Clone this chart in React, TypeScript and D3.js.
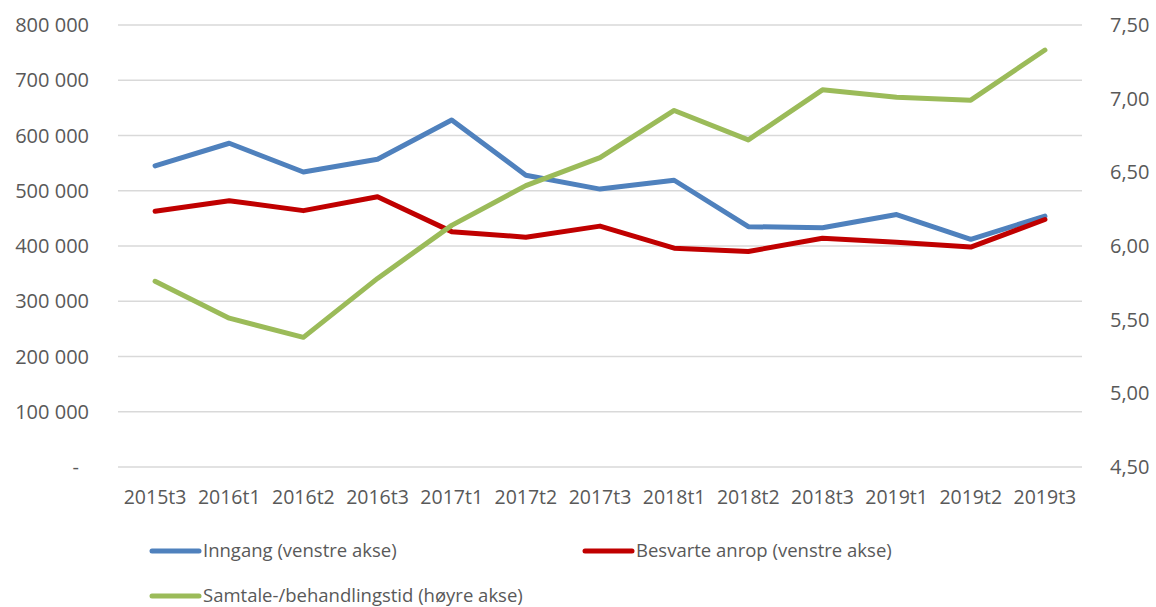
import React, { useEffect, useRef } from "react";
import * as d3 from "d3";

const categories = [
  "2015t3", "2016t1", "2016t2", "2016t3", "2017t1", "2017t2", "2017t3",
  "2018t1", "2018t2", "2018t3", "2019t1", "2019t2", "2019t3",
];
// venstre akse
const inngang = [545000, 586000, 534000, 557000, 628000, 528000, 503000, 519000, 435000, 433000, 457000, 412000, 454000];
const besvarte = [463000, 482000, 464000, 489000, 426000, 416000, 436000, 396000, 390000, 414000, 407000, 398000, 448000];
// høyre akse
const samtaletid = [5.76, 5.51, 5.38, 5.78, 6.14, 6.41, 6.6, 6.92, 6.72, 7.06, 7.01, 6.99, 7.33];

const leftTicks = [0, 100000, 200000, 300000, 400000, 500000, 600000, 700000, 800000];
const rightTicks = [4.5, 5, 5.5, 6, 6.5, 7, 7.5];

const W = 1156;
const H = 607;
const FONT = "'Open Sans', sans-serif";
const TXT = "#595959";

const series = [
  { name: "Inngang (venstre akse)", values: inngang, color: "#4F81BD", axis: "left" },
  { name: "Besvarte anrop (venstre akse)", values: besvarte, color: "#C00000", axis: "left" },
  { name: "Samtale-/behandlingstid (høyre akse)", values: samtaletid, color: "#9BBB59", axis: "right" },
];

export default function App() {
  const svgRef = useRef<SVGSVGElement | null>(null);

  useEffect(() => {
    const svg = d3.select(svgRef.current);
    svg.selectAll("*").remove();

    const m = { left: 118, right: 1082, top: 25, bottom: 467 };

    const x = d3.scaleBand<string>().domain(categories).range([m.left, m.right]);
    const cx = (c: string) => (x(c) || 0) + x.bandwidth() / 2;
    const yL = d3.scaleLinear().domain([0, 800000]).range([m.bottom, m.top]);
    const yR = d3.scaleLinear().domain([4.5, 7.5]).range([m.bottom, m.top]);

    // rutenett
    svg
      .append("g")
      .selectAll("line")
      .data(leftTicks)
      .join("line")
      .attr("x1", m.left)
      .attr("x2", m.right)
      .attr("y1", (d) => yL(d))
      .attr("y2", (d) => yL(d))
      .attr("stroke", "#d9d9d9")
      .attr("stroke-width", 1.5);

    // venstre akse
    const fmtL = (d: number) =>
      d === 0 ? "-" : d3.format(",")(d).replace(/,/g, " ");
    svg
      .append("g")
      .selectAll("text")
      .data(leftTicks)
      .join("text")
      .attr("x", (d) => (d === 0 ? 79 : 89))
      .attr("y", (d) => yL(d))
      .attr("dy", "0.35em")
      .attr("text-anchor", "end")
      .attr("font-family", FONT)
      .attr("font-size", 20)
      .attr("fill", TXT)
      .text(fmtL);

    // høyre akse
    svg
      .append("g")
      .selectAll("text")
      .data(rightTicks)
      .join("text")
      .attr("x", 1110)
      .attr("y", (d) => yR(d))
      .attr("dy", "0.35em")
      .attr("text-anchor", "start")
      .attr("font-family", FONT)
      .attr("font-size", 20)
      .attr("fill", TXT)
      .text((d) => d.toFixed(2).replace(".", ","));

    // kategorier
    svg
      .append("g")
      .selectAll("text")
      .data(categories)
      .join("text")
      .attr("x", (d) => cx(d))
      .attr("y", 497)
      .attr("dy", "0.35em")
      .attr("text-anchor", "middle")
      .attr("font-family", FONT)
      .attr("font-size", 19.5)
      .attr("fill", TXT)
      .text((d) => d);

    // linjer
    series.forEach((s) => {
      const y = s.axis === "left" ? yL : yR;
      const line = d3
        .line<number>()
        .x((_, i) => cx(categories[i]))
        .y((d) => y(d));
      svg
        .append("path")
        .datum(s.values)
        .attr("d", line)
        .attr("fill", "none")
        .attr("stroke", s.color)
        .attr("stroke-width", 5)
        .attr("stroke-linejoin", "round")
        .attr("stroke-linecap", "round");
    });

    // forklaring
    const legendPos = [
      { x: 152, y: 551 },
      { x: 585, y: 551 },
      { x: 152, y: 596 },
    ];
    series.forEach((s, i) => {
      const p = legendPos[i];
      const g = svg.append("g").attr("transform", `translate(${p.x},${p.y})`);
      g.append("line")
        .attr("x1", 0)
        .attr("x2", 47)
        .attr("stroke", s.color)
        .attr("stroke-width", 5)
        .attr("stroke-linecap", "round");
      g.append("text")
        .attr("x", 51)
        .attr("dy", "0.35em")
        .attr("font-family", FONT)
        .attr("font-size", 18.5)
        .attr("fill", TXT)
        .text(s.name);
    });
  }, []);

  return (
    <svg
      ref={svgRef}
      width={W}
      height={H}
      style={{ position: "absolute", left: 0, top: 0, background: "#fff" }}
    />
  );
}
